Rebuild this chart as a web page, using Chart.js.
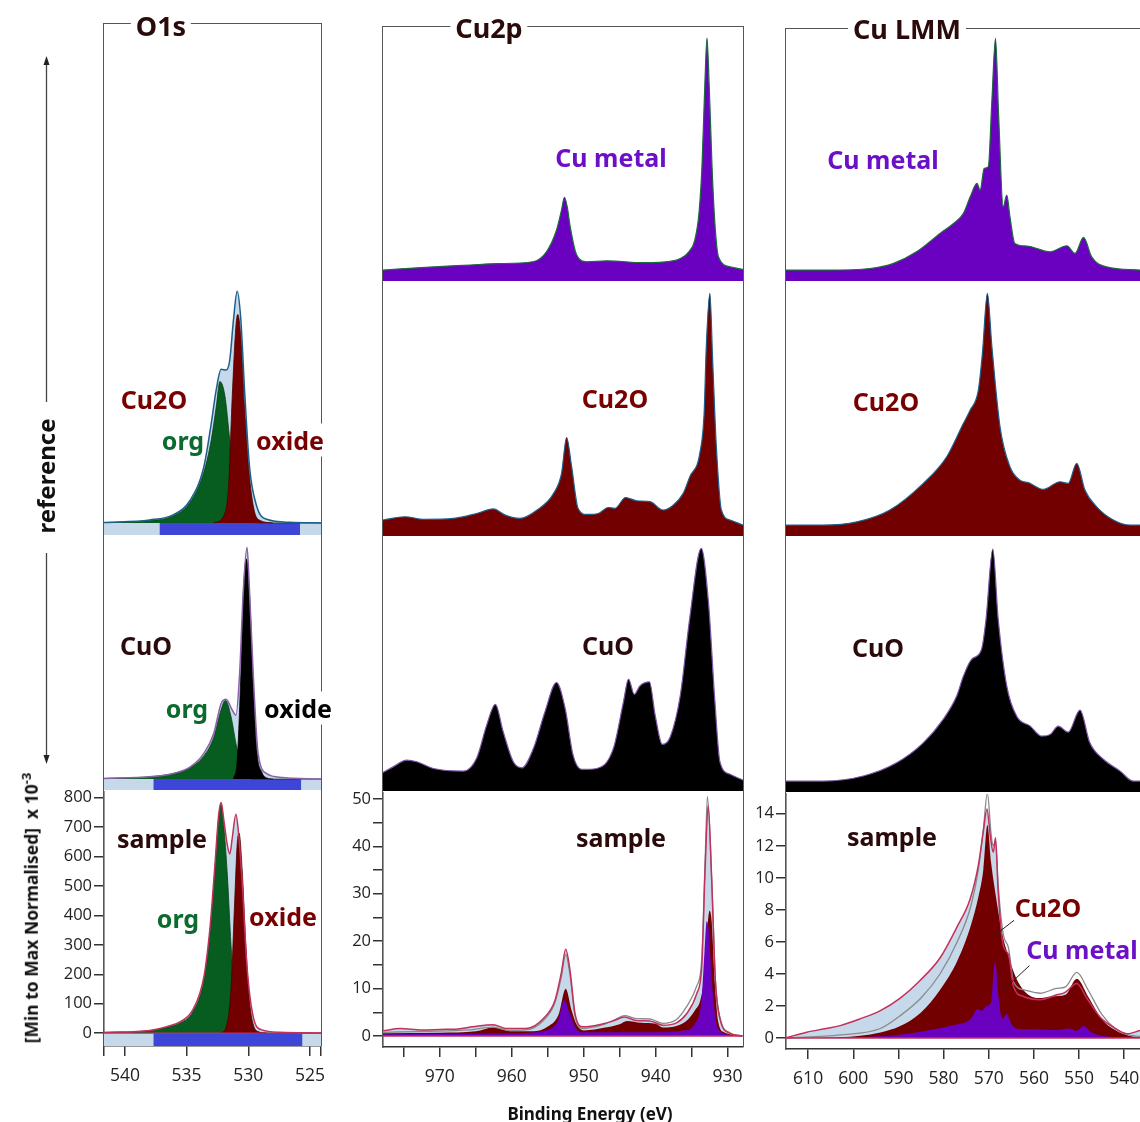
<!DOCTYPE html>
<html>
<head>
<meta charset="utf-8">
<script src="https://cdn.jsdelivr.net/npm/chart.js@4.4.1/dist/chart.umd.min.js"></script>
<style>
  body { margin: 0; background: #fff; }
  #fig { position: relative; width: 1140px; height: 1122px; overflow: hidden; font-family: 'Noto Sans', sans-serif; }
  #fig canvas { position: absolute; }
  .frame { position: absolute; border: 1.5px solid #555; border-bottom: none; box-sizing: border-box; }
  .lbl { position: absolute; transform: translate(-50%, -50%); font-weight: 700; font-size: 25px; line-height: 1; white-space: nowrap; }
  .title { font-size: 27px; color: #2a0a0a; background: #fff; padding: 0 5px; }
  .bg { background: #fff; padding: 4px 2px; }
  .red { color: #780000; }
  .grn { color: #0b6a2e; }
  .pur { color: #6c10c8; }
  .dk { color: #2a0a0a; }
  .rot { transform: translate(-50%, -50%) rotate(-90deg); }
</style>
</head>
<body>
<div id="fig">
  <canvas id="o1sCu2o" width="217" height="511" style="left:104px;top:24px"></canvas>
  <canvas id="o1sCuo" width="217" height="255" style="left:104px;top:535px"></canvas>
  <canvas id="o1sSample" width="287" height="320" style="left:44px;top:780px"></canvas>

  <canvas id="cu2pMetal" width="360" height="254" style="left:383px;top:27px"></canvas>
  <canvas id="cu2pCu2o" width="360" height="255" style="left:383px;top:281px"></canvas>
  <canvas id="cu2pCuo" width="360" height="255" style="left:383px;top:536px"></canvas>
  <canvas id="cu2pSample" width="430" height="319" style="left:323px;top:781px"></canvas>

  <canvas id="lmmMetal" width="354" height="252" style="left:786px;top:29px"></canvas>
  <canvas id="lmmCu2o" width="354" height="255" style="left:786px;top:281px"></canvas>
  <canvas id="lmmCuo" width="354" height="256" style="left:786px;top:536px"></canvas>
  <canvas id="lmmSample" width="434" height="318" style="left:726px;top:782px"></canvas>

  <div class="frame" style="left:103px;top:23px;width:219px;height:1023px"></div>
  <div class="frame" style="left:382px;top:26px;width:362px;height:1021px"></div>
  <div class="frame" style="left:785px;top:28px;width:370px;height:1021px"></div>

  <svg style="position:absolute;left:0;top:0" width="100" height="800">
    <line x1="46.5" y1="62" x2="46.5" y2="402" stroke="#444" stroke-width="1.3"/>
    <polygon points="46.5,56 43.5,65 49.5,65" fill="#222"/>
    <line x1="46.5" y1="553" x2="46.5" y2="757" stroke="#444" stroke-width="1.3"/>
    <polygon points="46.5,764 43.5,755 49.5,755" fill="#222"/>
  </svg>

  <div class="lbl title" style="left:161px;top:25px">O1s</div>
  <div class="lbl title" style="left:489px;top:27px">Cu2p</div>
  <div class="lbl title" style="left:907px;top:28px">Cu LMM</div>

  <div class="lbl rot" style="left:46px;top:476px;font-size:24px;color:#111">reference</div>
  <div class="lbl rot" style="left:30px;top:908px;font-size:17.5px;color:#111">[Min to Max Normalised]&nbsp; x 10<sup style="font-size:13px">-3</sup></div>
  <div class="lbl" style="left:590px;top:1113px;font-size:17px;color:#111">Binding Energy (eV)</div>

  <div class="lbl red" style="left:154px;top:399px">Cu2O</div>
  <div class="lbl grn" style="left:183px;top:440px">org</div>
  <div class="lbl red bg" style="left:290px;top:440px">oxide</div>
  <div class="lbl dk" style="left:146px;top:645px">CuO</div>
  <div class="lbl grn" style="left:187px;top:708px">org</div>
  <div class="lbl bg" style="left:298px;top:708px;color:#000">oxide</div>
  <div class="lbl dk" style="left:162px;top:838px">sample</div>
  <div class="lbl grn" style="left:178px;top:918px">org</div>
  <div class="lbl red bg" style="left:283px;top:916px">oxide</div>

  <div class="lbl pur bg" style="left:611px;top:157px">Cu metal</div>
  <div class="lbl red" style="left:615px;top:398px">Cu2O</div>
  <div class="lbl dk" style="left:608px;top:645px">CuO</div>
  <div class="lbl dk" style="left:621px;top:837px">sample</div>

  <div class="lbl pur bg" style="left:883px;top:159px">Cu metal</div>
  <div class="lbl red" style="left:886px;top:401px">Cu2O</div>
  <div class="lbl dk" style="left:878px;top:647px">CuO</div>
  <div class="lbl dk" style="left:892px;top:836px">sample</div>
  <div class="lbl red" style="left:1048px;top:907px">Cu2O</div>
  <div class="lbl pur" style="left:1082px;top:949px">Cu metal</div>
</div>

<script>
// ---- energy ranges (eV) and tick values ----
const o1sRange = [524.1, 541.7];
const cu2pRange = [927.9, 977.9];
const lmmRange = [536.5, 614.9];

const o1sXTicks = [541.7, 540, 535, 530, 525, 524.1];
const cu2pXTicks = [975, 970, 965, 960, 955, 950, 945, 940, 935, 930];
const lmmXTicks = [610, 600, 590, 580, 570, 560, 550, 540];
const o1sYTicks = [0, 100, 200, 300, 400, 500, 600, 700, 800];
const cu2pYTicks = [0, 5, 10, 15, 20, 25, 30, 35, 40, 45, 50];
const lmmYTicks = [0, 2, 4, 6, 8, 10, 12, 14];

// ---- O1s: fitted background ranges ----
const o1sFullBand = [[541.7, 0], [524.1, 0]];
const o1sFitCu2o = [[537.2, 0], [525.8, 0]];
const o1sFitCuo = [[537.7, 0], [525.7, 0]];
const o1sFitSample = [[537.7, 0], [525.6, 0]];

// ---- O1s reference Cu2O (normalised) ----
const o1sCu2oEnv = [[541.7,0.002],[538.0,0.013],[536.1,0.035],[534.7,0.099],[533.6,0.243],[533.0,0.43],[532.6,0.574],[532.2,0.663],[531.8,0.66],[531.5,0.703],[531.2,0.876],[530.9,1.0],[530.6,0.876],[530.3,0.574],[529.9,0.243],[529.3,0.07],[528.5,0.016],[526.6,0.003],[524.1,0]];
const o1sCu2oOrg = [[541.7,0.002],[538.0,0.01],[536.1,0.03],[534.7,0.09],[533.6,0.22],[533.0,0.358],[532.6,0.5],[532.3,0.61],[531.9,0.55],[531.5,0.358],[531.0,0.12],[530.5,0.03],[530.0,0.01],[529.0,0],[524.1,0]];
const o1sCu2oOxide = [[532.8,0],[532.0,0.03],[531.6,0.157],[531.3,0.545],[531.0,0.85],[530.85,0.9],[530.6,0.8],[530.3,0.5],[529.9,0.2],[529.5,0.05],[529.0,0.01],[528.0,0]];

// ---- O1s reference CuO ----
const o1sCuoEnv = [[541.7,0.003],[538.0,0.01],[536.1,0.024],[534.7,0.053],[533.6,0.111],[532.8,0.197],[532.2,0.326],[531.8,0.344],[531.3,0.298],[531.0,0.276],[530.7,0.456],[530.4,0.815],[530.1,1.0],[529.9,0.815],[529.6,0.456],[529.2,0.111],[528.5,0.024],[527.2,0.007],[524.1,0]];
const o1sCuoOrg = [[541.7,0.003],[538.0,0.01],[536.1,0.024],[534.7,0.05],[533.6,0.1],[532.8,0.18],[532.2,0.3],[531.85,0.34],[531.4,0.27],[531.0,0.154],[530.6,0.06],[530.2,0.015],[529.5,0],[524.1,0]];
const o1sCuoOxide = [[531.2,0],[530.9,0.08],[530.6,0.45],[530.4,0.8],[530.15,0.95],[529.9,0.8],[529.6,0.42],[529.3,0.12],[528.9,0.03],[528.5,0.005],[528.0,0]];

// ---- O1s sample (x 10^-3) ----
const o1sSampleEnv = [[541.7,2],[538.0,9],[536.6,22],[535.5,39],[534.5,79],[533.6,191],[533.1,360],[532.7,573],[532.4,742],[532.2,784],[532.0,730],[531.7,640],[531.5,609],[531.3,663],[531.0,744],[530.8,685],[530.5,517],[530.1,225],[529.6,56],[528.9,11],[527.4,3],[524.1,0]];
const o1sSampleOrg = [[541.7,2],[538.0,8],[536.6,20],[535.5,35],[534.5,72],[533.6,180],[533.1,340],[532.7,560],[532.4,730],[532.2,780],[532.0,710],[531.7,540],[531.4,300],[531.1,120],[530.8,40],[530.4,10],[530.0,2],[529.0,0],[524.1,0]];
const o1sSampleOxide = [[532.2,0],[531.8,20],[531.4,150],[531.1,450],[530.9,640],[530.75,680],[530.5,560],[530.2,300],[529.9,110],[529.6,30],[529.2,5],[528.5,0]];

// ---- Cu2p references (normalised) ----
const cu2pMetalRef = [[977.9,0],[972,0.012],[965.8,0.022],[962,0.028],[957.1,0.036],[955.2,0.079],[953.8,0.173],[953.1,0.26],[952.7,0.314],[952.3,0.27],[951.9,0.187],[951.0,0.065],[949.6,0.036],[946.8,0.04],[941.7,0.032],[938,0.038],[936.6,0.05],[935.4,0.08],[934.6,0.129],[934.0,0.25],[933.6,0.446],[933.2,0.8],[932.9,1.0],[932.6,0.8],[932.2,0.446],[931.8,0.2],[931.3,0.057],[929.7,0.014],[927.9,0.003]];
const cu2pCu2oRef = [[977.9,0.022],[974.8,0.036],[972.3,0.025],[968.1,0.029],[964.9,0.05],[962.6,0.07],[960.9,0.043],[958.9,0.029],[956.5,0.065],[954.2,0.137],[953.1,0.223],[952.4,0.378],[951.7,0.252],[950.8,0.072],[949.6,0.046],[948.0,0.05],[946.6,0.076],[945.7,0.072],[944.2,0.119],[942.7,0.105],[940.8,0.101],[939.0,0.065],[937.6,0.086],[936.2,0.137],[935.3,0.208],[933.9,0.309],[933.3,0.482],[933.0,0.769],[932.5,1.0],[932.1,0.698],[931.6,0.338],[930.9,0.065],[929.7,0.022],[927.9,0]];
const cu2pCuoRef = [[977.9,0.033],[976.5,0.057],[974.6,0.086],[973.2,0.079],[970.9,0.05],[966.7,0.039],[964.9,0.094],[963.5,0.237],[962.3,0.327],[961.2,0.208],[959.8,0.079],[958.6,0.053],[957.0,0.137],[955.4,0.295],[953.8,0.421],[952.6,0.309],[951.5,0.108],[950.3,0.046],[948.2,0.05],[945.9,0.137],[944.5,0.338],[943.8,0.436],[943.0,0.37],[942.2,0.407],[940.9,0.424],[940.1,0.28],[939.1,0.154],[938.0,0.187],[936.6,0.367],[935.3,0.698],[933.7,1.0],[932.7,0.769],[931.8,0.338],[931.1,0.079],[929.7,0.025],[927.9,0]];

// ---- Cu2p sample ----
const cu2pSampleEnv = [[977.9,1.1],[975.5,1.6],[972.5,1.3],[970,1.4],[967.5,1.5],[965.4,1.95],[962.6,2.4],[960.7,1.6],[958.0,1.6],[955.6,3.7],[954.0,7.5],[953.1,13.4],[952.5,18.3],[951.9,13.8],[951.2,4.7],[950.1,1.95],[947.3,2.6],[945.9,3.2],[944.3,4.0],[942.7,3.3],[940.8,3.2],[939.0,2.3],[937.1,2.8],[935.7,4.7],[934.3,8.9],[933.6,14.5],[933.1,36.1],[932.7,48.6],[932.2,32.6],[931.7,11.7],[931.0,3.3],[929.7,0.6],[927.9,0]];
const cu2pSampleSum = [[977.9,0.8],[972,1.0],[966,1.3],[962.6,1.9],[960.5,1.2],[958,1.3],[955.6,3.3],[954,7.0],[953.1,12.5],[952.5,17.2],[951.9,12.8],[951.2,4.2],[950.1,1.6],[947.3,2.4],[945.9,3.3],[944.3,4.3],[942.7,3.7],[940.8,3.6],[939.0,2.7],[937.1,3.5],[935.7,6.2],[934.3,10.5],[933.6,16],[933.1,38],[932.8,50.5],[932.2,33],[931.7,12],[931.0,3.6],[929.7,0.7],[927.9,0]];
const cu2pSampleCu2o = [[977.9,0.6],[970,0.7],[965,1.0],[962.6,1.8],[960,1.0],[957,1.0],[955,2.0],[953.5,4.5],[952.5,10.0],[951.7,5.5],[951,2.5],[950,1.2],[947,1.8],[945,2.5],[944,3.2],[942,2.8],[940,2.6],[939,1.8],[937,2.2],[935.5,3.5],[934.5,5.5],[933.8,7.5],[933.3,12],[932.8,23],[932.5,26.4],[932.2,24],[931.8,12],[931.3,3],[930.5,0.8],[927.9,0.1]];
const cu2pSampleMetal = [[977.9,0.4],[965,0.5],[960,0.6],[955,1.3],[953.5,3.5],[952.7,7.6],[952,5],[951,1.5],[950,0.8],[945,0.8],[940,0.8],[936,1.2],[934.6,2.5],[933.6,8],[933.2,18],[932.9,24.2],[932.6,22],[932.2,12],[931.6,3],[931,1],[930,0.3],[927.9,0]];

// ---- Cu LMM references (normalised) ----
const lmmMetalRef = [[614.9,0],[605.9,0],[596.3,0.007],[591.1,0.029],[586.0,0.079],[580.8,0.158],[577.8,0.201],[575.6,0.245],[574.1,0.316],[572.6,0.374],[571.9,0.345],[571.0,0.439],[570.1,0.446],[569.3,0.733],[568.5,1.0],[567.8,0.662],[566.8,0.273],[566.0,0.324],[565.3,0.23],[564.2,0.115],[561.6,0.104],[556.4,0.079],[552.7,0.105],[550.9,0.072],[549.0,0.141],[547.2,0.057],[543.9,0.014],[536.5,0]];
const lmmCu2oRef = [[614.9,0],[606.6,0],[599.2,0.014],[591.9,0.065],[584.5,0.18],[579.3,0.295],[575.6,0.439],[574.1,0.496],[572.3,0.582],[571.4,0.741],[570.3,1.0],[569.3,0.769],[567.5,0.424],[565.3,0.252],[563.1,0.194],[561.2,0.183],[557.9,0.154],[554.2,0.187],[552.4,0.18],[550.5,0.266],[548.7,0.151],[546.1,0.079],[542.4,0.022],[538.7,0],[536.5,0]];
const lmmCuoRef = [[614.9,0],[606.6,0],[597.8,0.022],[590.4,0.079],[584.5,0.165],[580.1,0.266],[577.1,0.367],[575.6,0.453],[573.8,0.525],[571.6,0.568],[570.6,0.698],[569.1,1.0],[567.9,0.698],[566.0,0.41],[563.8,0.28],[560.8,0.237],[558.3,0.194],[556.4,0.201],[554.6,0.237],[552.4,0.211],[549.8,0.306],[547.6,0.165],[544.6,0.094],[540.9,0.043],[538.0,0],[536.5,0]];

// ---- Cu LMM sample ----
const lmmSampleEnv = [[614.9,0.02],[610.3,0.37],[606,0.6],[602.9,0.78],[598.5,1.2],[594.1,1.7],[589.6,2.5],[585.2,3.6],[580.8,5.0],[577.1,6.9],[574.1,8.7],[572.3,10.8],[571.2,12.9],[570.4,14.3],[569.6,12.5],[569.0,11.6],[568.5,12.5],[567.9,9.1],[566.8,5.8],[565.6,5.2],[564.5,3.2],[562.3,2.6],[558.6,2.4],[554.9,2.7],[553.1,2.85],[550.5,3.4],[548.3,2.5],[545.3,1.3],[542.4,0.68],[539.4,0.27],[536.5,0.47]];
const lmmSampleSum = [[614.9,0],[602.9,0.2],[594,0.6],[589.6,1.4],[585,2.5],[580.8,4.0],[577,6.0],[574,8.2],[572.3,10.5],[571.2,13],[570.3,15.3],[569.5,12.8],[569,12.0],[568.5,12.3],[567.9,9.5],[566.8,6.5],[565.6,5.6],[564.5,3.5],[562,3.0],[558.6,2.8],[555,3.1],[553,3.2],[550.5,4.1],[548,3.0],[545,1.5],[542,0.6],[539,0.2],[536.5,0.1]];
const lmmSampleCu2o = [[614.9,0],[602.9,0.05],[594,0.35],[589.6,0.75],[585,1.6],[580.8,3.0],[577,4.8],[574,7.0],[572.3,8.8],[571.2,10.5],[570.3,13.3],[569.5,11.0],[568.5,9.0],[567,6.5],[565.5,5.0],[564,3.8],[562,2.9],[559,2.5],[556,2.6],[553,2.7],[550.5,3.7],[548,2.6],[545,1.2],[542,0.5],[539,0.15],[536.5,0.05]];
const lmmSampleMetal = [[614.9,0],[600,0.05],[590,0.2],[583,0.5],[578,0.8],[574,1.2],[572.5,1.8],[571.5,1.7],[570.5,2.0],[569.5,2.2],[568.6,4.8],[567.8,2.5],[567,1.2],[566,1.5],[565.2,1.0],[564,0.6],[560,0.55],[555,0.5],[552,0.6],[550.5,0.45],[549,0.75],[547.5,0.4],[545,0.15],[540,0.05],[536.5,0]];
// leader lines from the component labels
const lmmCu2oLeader = [[569.3,6.28],[564.4,7.35]];
const lmmMetalLeader = [[566.9,2.97],[561.0,4.52]];

// ---- colours ----
const LIGHT = '#c6d9ea', BLUE = '#3e46d8', GREEN = '#075c1f', MAROON = '#730000';
const PURPLE = '#6a00c0', CRIMSON = '#c2315c', GREY = '#8a8a8a';

const pts = a => a.map(([x, y]) => ({ x, y }));

function series(data, fillColor, lineColor, lw, fill) {
  return {
    data: pts(data), fill: fill,
    backgroundColor: fillColor || 'rgba(0,0,0,0)',
    borderColor: lineColor || 'rgba(0,0,0,0)',
    borderWidth: lw, pointRadius: 0,
    cubicInterpolationMode: 'monotone'
  };
}

function hiddenX(r) {
  return { type: 'linear', display: false, reverse: true, min: r[0], max: r[1] };
}
function hiddenY(min, max) {
  return { type: 'linear', display: false, min, max };
}

const tickFont = { family: 'Open Sans', size: 17.5 };

function xAxis(r, ticks, every, h) {
  return {
    type: 'linear', reverse: true, min: r[0], max: r[1],
    afterBuildTicks: s => { s.ticks = ticks.map(v => ({ value: v })); },
    afterFit: s => { s.height = h; },
    ticks: { autoSkip: false, maxRotation: 0, padding: 10, color: '#222', font: tickFont,
      callback: v => (Number.isInteger(v) && v % every === 0) ? v : '' },
    grid: { drawOnChartArea: false, tickLength: 10, color: '#333', lineWidth: 1.5 },
    border: { color: '#333', width: 1.5 }
  };
}

function yAxis(min, max, ticks, every) {
  return {
    type: 'linear', min, max,
    afterBuildTicks: s => { s.ticks = ticks.map(v => ({ value: v })); },
    afterFit: s => { s.width = 60; },
    ticks: { padding: 2, color: '#222', font: { family: 'Open Sans', size: 16.5 },
      callback: v => v % every === 0 ? v : '' },
    grid: { drawOnChartArea: false, tickLength: 10, color: '#333', lineWidth: 1.5 },
    border: { color: '#333', width: 1.5 }
  };
}

function panel(id, datasets, x, y, padding) {
  return new Chart(document.getElementById(id), {
    type: 'line',
    data: { datasets },
    options: {
      responsive: false, animation: false, events: [],
      layout: { padding: padding || 0 },
      plugins: { legend: { display: false }, tooltip: { enabled: false } },
      scales: { x, y }
    }
  });
}

// ===== O1s column =====
panel('o1sCu2o', [
  series(o1sCu2oEnv, null, '#1d5f8a', 1.5, false),
  series(o1sCu2oOxide, MAROON, '#4a0000', 0.8, 'origin'),
  series(o1sCu2oOrg, GREEN, '#0a3d14', 0.8, 'origin'),
  series(o1sCu2oEnv, LIGHT, null, 0, 'origin'),
  series(o1sFitCu2o, BLUE, null, 0, 'start'),
  series(o1sFullBand, LIGHT, null, 0, 'start')
], hiddenX(o1sRange), hiddenY(-0.052, 2.153));

panel('o1sCuo', [
  series(o1sCuoEnv, null, '#8a62a8', 1.5, false),
  series(o1sCuoOxide, '#000', '#000', 0.8, 'origin'),
  series(o1sCuoOrg, GREEN, '#0a3d14', 0.8, 'origin'),
  series(o1sCuoEnv, LIGHT, null, 0, 'origin'),
  series(o1sFitCuo, BLUE, null, 0, 'start'),
  series(o1sFullBand, LIGHT, null, 0, 'start')
], hiddenX(o1sRange), hiddenY(-0.047, 1.053));

panel('o1sSample', [
  series(o1sSampleEnv, null, CRIMSON, 1.5, false),
  series(o1sFullBand, null, CRIMSON, 1.2, false),
  series(o1sSampleOxide, MAROON, '#4a0000', 0.8, 'origin'),
  series(o1sSampleOrg, GREEN, '#0a3d14', 0.8, 'origin'),
  series(o1sSampleEnv, LIGHT, null, 0, 'origin'),
  series(o1sFitSample, BLUE, null, 0, 'start'),
  series(o1sFullBand, LIGHT, null, 0, 'start')
], xAxis(o1sRange, o1sXTicks, 5, 54), yAxis(-43.9, 820, o1sYTicks, 100), { top: 10, right: 10 });

// ===== Cu2p column =====
panel('cu2pMetal', [series(cu2pMetalRef, PURPLE, '#1d6b3b', 1.2, 'start')],
  hiddenX(cu2pRange), hiddenY(-0.047, 1.048));
panel('cu2pCu2o', [series(cu2pCu2oRef, MAROON, '#1d5f8a', 1.2, 'start')],
  hiddenX(cu2pRange), hiddenY(-0.047, 1.053));
panel('cu2pCuo', [series(cu2pCuoRef, '#000', '#7d55a5', 1.2, 'start')],
  hiddenX(cu2pRange), hiddenY(-0.047, 1.053));

panel('cu2pSample', [
  series(cu2pSampleEnv, null, CRIMSON, 1.5, false),
  series([[977.9, 0], [927.9, 0]], null, CRIMSON, 1.5, false),
  series(cu2pSampleSum, null, GREY, 1.3, false),
  series(cu2pSampleMetal, PURPLE, null, 0, 'origin'),
  series(cu2pSampleCu2o, MAROON, null, 0, 'origin'),
  series(cu2pSampleEnv, LIGHT, null, 0, 'origin')
], xAxis(cu2pRange, cu2pXTicks, 10, 53), yAxis(-2.3, 51.26, cu2pYTicks, 10), { top: 10, right: 10 });

// ===== Cu LMM column =====
panel('lmmMetal', [series(lmmMetalRef, PURPLE, '#1d6b3b', 1.2, 'start')],
  hiddenX(lmmRange), hiddenY(-0.047, 1.04));
panel('lmmCu2o', [series(lmmCu2oRef, MAROON, '#1d5f8a', 1.2, 'start')],
  hiddenX(lmmRange), hiddenY(-0.047, 1.053));
panel('lmmCuo', [series(lmmCuoRef, '#000', '#7d55a5', 1.2, 'start')],
  hiddenX(lmmRange), hiddenY(-0.047, 1.057));

panel('lmmSample', [
  series(lmmCu2oLeader, null, '#222', 1, false),
  series(lmmMetalLeader, null, '#222', 1, false),
  series(lmmSampleEnv, null, CRIMSON, 1.5, false),
  series([[614.9, 0], [536.5, 0]], null, CRIMSON, 1.5, false),
  series(lmmSampleSum, null, GREY, 1.3, false),
  series(lmmSampleMetal, PURPLE, null, 0, 'origin'),
  series(lmmSampleCu2o, MAROON, null, 0, 'origin'),
  series(lmmSampleEnv, LIGHT, null, 0, 'origin')
], xAxis(lmmRange, lmmXTicks, 10, 51), yAxis(-0.68, 15.24, lmmYTicks, 2), { top: 10, right: 20 });
</script>
</body>
</html>
